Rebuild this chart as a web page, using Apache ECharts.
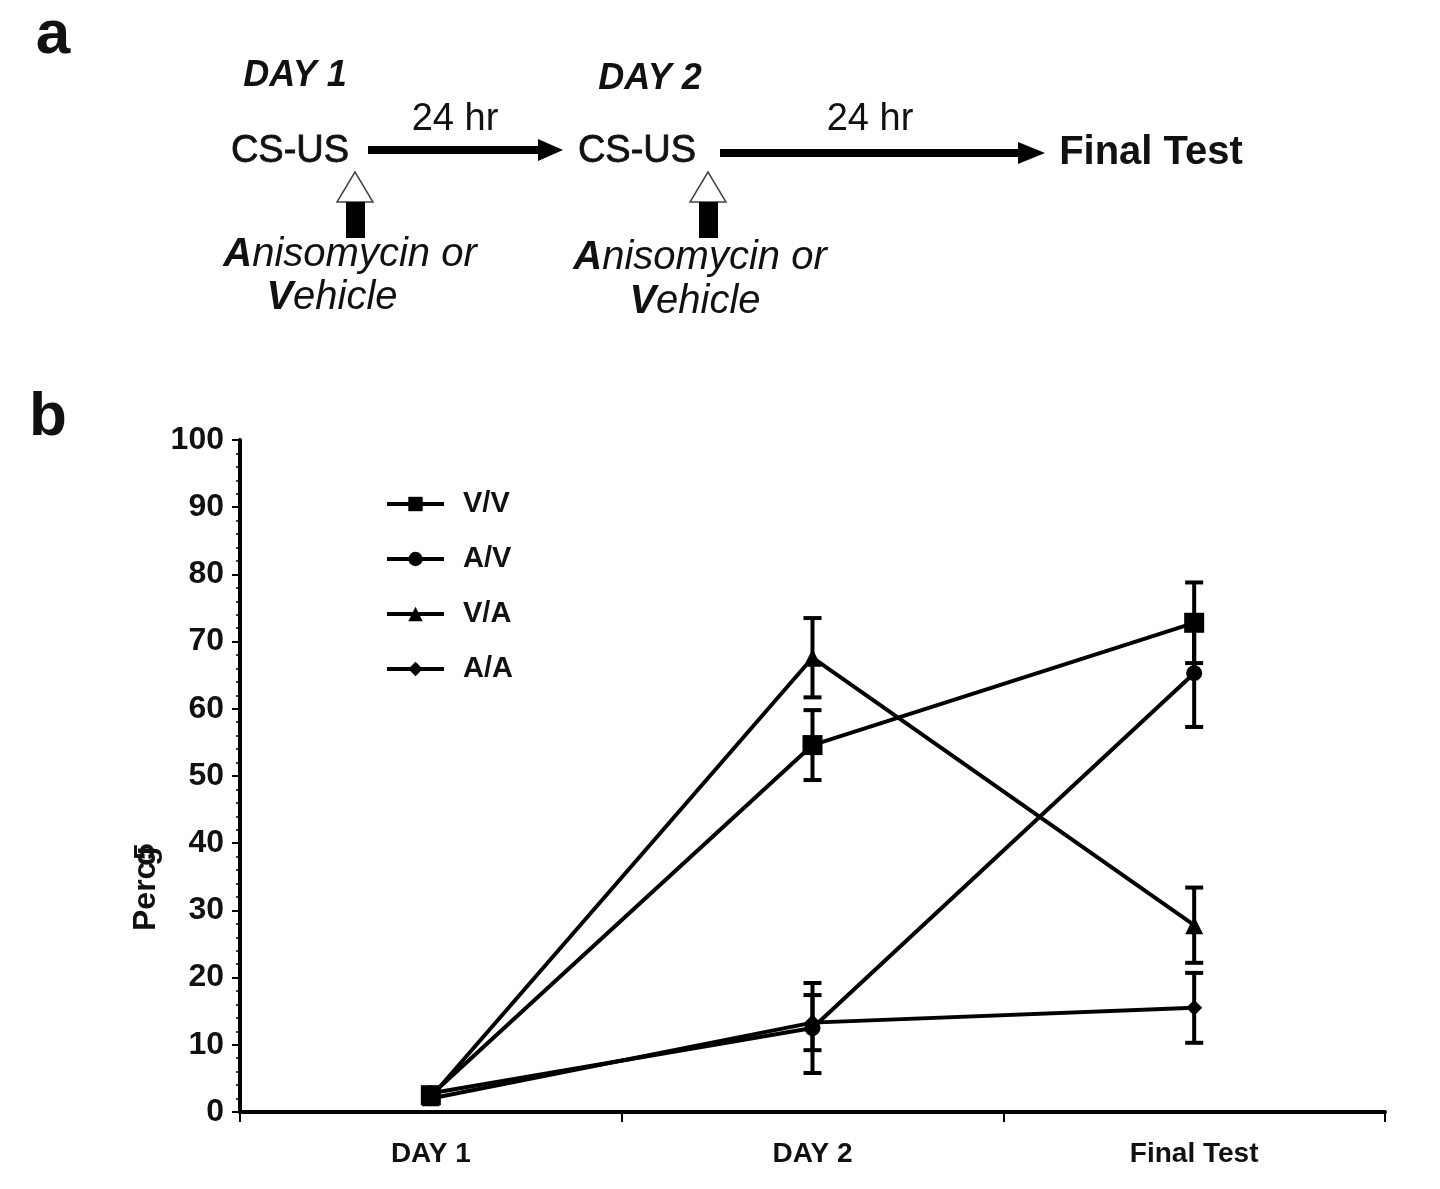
<!DOCTYPE html>
<html>
<head>
<meta charset="utf-8">
<script src="https://cdn.jsdelivr.net/npm/echarts@6/dist/echarts.min.js"></script>
<style>
html,body{margin:0;padding:0;background:#fff;}
#chart{width:1440px;height:1189px;}
</style>
</head>
<body>
<div id="chart"></div>
<script>
const categories = ['DAY 1', 'DAY 2', 'Final Test'];
const seriesNames = ['V/V', 'A/V', 'V/A', 'A/A'];
const vvMean = [2.5, 54.6, 72.8];
const vvErr  = [0, 5.2, 6.0];
const avMean = [2.8, 12.5, 65.3];
const avErr  = [0, 6.7, 8.0];
const vaMean = [2.2, 67.6, 27.8];
const vaErr  = [0, 5.9, 5.6];
const aaMean = [2.0, 13.3, 15.5];
const aaErr  = [0, 4.1, 5.2];
const yTicks = [0, 100, 10];

const FF = '"Liberation Sans", Arial, sans-serif';
const means = [vvMean, avMean, vaMean, aaMean];
const errs = [vvErr, avErr, vaErr, aaErr];
const symbols = ['rect', 'circle', 'triangle', 'diamond'];
const symbolSizes = [20, 16, 18, 16];
const zOrder = [3, 4, 3, 3];

const chart = echarts.init(document.getElementById('chart'), null, {renderer: 'canvas'});

const series = [];
seriesNames.forEach((name, i) => {
  series.push({
    name: name, type: 'line', data: means[i],
    symbol: symbols[i], symbolSize: symbolSizes[i], showSymbol: true,
    lineStyle: {color: '#000', width: 4},
    itemStyle: {color: '#000'},
    z: zOrder[i]
  });
  series.push({
    name: name, type: 'custom',
    data: means[i].map((m, k) => [k, m, errs[i][k]]),
    renderItem: function (params, api) {
      const x = api.value(0), m = api.value(1), e = api.value(2);
      if (!e) return null;
      const t = api.coord([x, m + e]);
      const b = api.coord([x, m - e]);
      const hw = 9;
      const st = {stroke: '#000', lineWidth: 4};
      return {type: 'group', children: [
        {type: 'line', shape: {x1: t[0], y1: t[1], x2: b[0], y2: b[1]}, style: st},
        {type: 'line', shape: {x1: t[0] - hw, y1: t[1], x2: t[0] + hw, y2: t[1]}, style: st},
        {type: 'line', shape: {x1: b[0] - hw, y1: b[1], x2: b[0] + hw, y2: b[1]}, style: st}
      ]};
    },
    z: 2
  });
});

function txt(x, y, text, font, opts) {
  return Object.assign({type: 'text', x: x, y: y, style: Object.assign({
    text: text, font: font, fill: '#111', align: 'center', verticalAlign: 'middle'
  }, opts || {})});
}

const richAB = {b: {fontWeight: 'bold', fontStyle: 'italic', fontSize: 40, fontFamily: FF, fill: '#111'}};

const graphic = [
  txt(53, 36, 'a', 'bold 62px ' + FF),
  txt(48, 418, 'b', 'bold 62px ' + FF),
  txt(295, 76, 'DAY 1', 'italic bold 36px ' + FF),
  txt(650, 79, 'DAY 2', 'italic bold 36px ' + FF),
  txt(290, 152, 'CS-US', '38px ' + FF, {stroke: '#111', lineWidth: 0.8}),
  txt(637, 152, 'CS-US', '38px ' + FF, {stroke: '#111', lineWidth: 0.8}),
  txt(455, 120, '24 hr', '38px ' + FF),
  txt(870, 120, '24 hr', '38px ' + FF),
  txt(1151, 153, 'Final Test', 'bold 40px ' + FF),
  {type: 'line', shape: {x1: 368, y1: 150, x2: 545, y2: 150}, style: {stroke: '#000', lineWidth: 8}},
  {type: 'polygon', shape: {points: [[538, 139], [563, 150], [538, 161]]}, style: {fill: '#000'}},
  {type: 'line', shape: {x1: 720, y1: 153, x2: 1025, y2: 153}, style: {stroke: '#000', lineWidth: 8}},
  {type: 'polygon', shape: {points: [[1018, 142], [1045, 153], [1018, 164]]}, style: {fill: '#000'}},
  {type: 'polygon', shape: {points: [[355, 172], [337, 202], [373, 202]]}, style: {fill: '#fff', stroke: '#444', lineWidth: 1.5}},
  {type: 'rect', shape: {x: 346, y: 202, width: 19, height: 36}, style: {fill: '#000'}},
  {type: 'polygon', shape: {points: [[708, 172], [690, 202], [726, 202]]}, style: {fill: '#fff', stroke: '#444', lineWidth: 1.5}},
  {type: 'rect', shape: {x: 699, y: 202, width: 19, height: 36}, style: {fill: '#000'}},
  txt(350, 255, '{b|A}nisomycin or', 'italic 40px ' + FF, {rich: richAB}),
  txt(332, 298, '{b|V}ehicle', 'italic 40px ' + FF, {rich: richAB}),
  txt(700, 258, '{b|A}nisomycin or', 'italic 40px ' + FF, {rich: richAB}),
  txt(695, 302, '{b|V}ehicle', 'italic 40px ' + FF, {rich: richAB}),
  {type: 'text', x: 146, y: 931, rotation: Math.PI / 2, style: {text: 'Perc', font: 'bold 32px ' + FF, fill: '#111', align: 'left', verticalAlign: 'middle'}},
  {type: 'text', x: 146, y: 866, rotation: Math.PI / 2, style: {text: 'g', font: 'bold 32px ' + FF, fill: '#111', align: 'left', verticalAlign: 'middle'}},
  {type: 'text', x: 146, y: 860, rotation: Math.PI / 2, style: {text: '5', font: 'bold 30px ' + FF, fill: '#111', align: 'left', verticalAlign: 'middle'}}
];

chart.setOption({
  animation: false,
  backgroundColor: '#fff',
  grid: {left: 240, right: 55, top: 440, bottom: 77},
  legend: {
    data: seriesNames,
    orient: 'vertical', left: 380, top: 484,
    itemWidth: 57, itemHeight: 18, itemGap: 25,
    lineStyle: {width: 4, color: '#000'},
    itemStyle: {color: '#000'},
    textStyle: {fontFamily: FF, fontWeight: 'bold', fontSize: 29, color: '#111', padding: [0, 0, 0, 14], lineHeight: 30}
  },
  xAxis: {
    type: 'category', data: categories, boundaryGap: true,
    axisLine: {lineStyle: {color: '#000', width: 4}},
    axisTick: {show: true, length: 10, lineStyle: {color: '#000', width: 2}},
    axisLabel: {fontFamily: FF, fontWeight: 'bold', fontSize: 28, color: '#111', margin: 28},
    splitLine: {show: false}
  },
  yAxis: {
    type: 'value', min: yTicks[0], max: yTicks[1], interval: yTicks[2],
    axisLine: {show: true, lineStyle: {color: '#000', width: 4}},
    axisTick: {show: true, length: 8, lineStyle: {color: '#000', width: 2}},
    minorTick: {show: true, splitNumber: 5, length: 4, lineStyle: {color: '#000', width: 1.5}},
    axisLabel: {fontFamily: FF, fontWeight: 'bold', fontSize: 32, color: '#111', margin: 16},
    splitLine: {show: false}
  },
  graphic: graphic,
  series: series
});
</script>
</body>
</html>
